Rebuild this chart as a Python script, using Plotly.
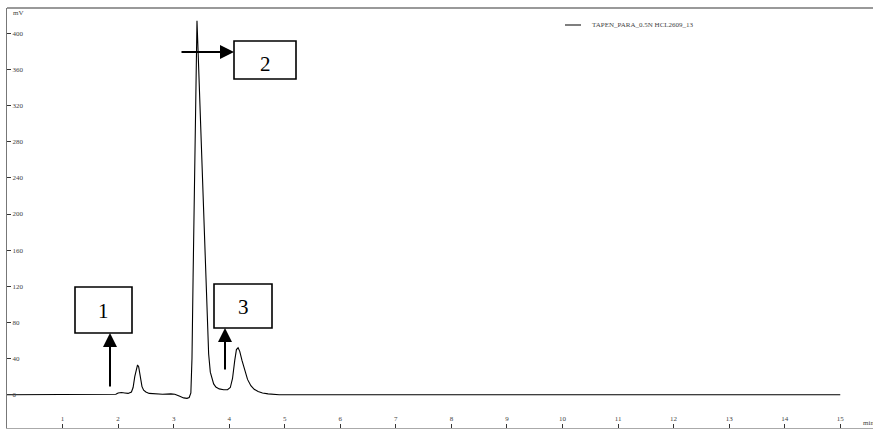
import plotly.graph_objects as go

# ---- data ----
time_min = [0.00, 1.90, 1.96, 2.00, 2.06, 2.12, 2.18, 2.24, 2.27, 2.30, 2.33, 2.35,
            2.37, 2.40, 2.43, 2.46, 2.50, 2.56, 2.65, 2.80, 2.95, 3.02, 3.10, 3.18,
            3.24, 3.28, 3.31, 3.33, 3.35, 3.37, 3.39, 3.41, 3.42, 3.44, 3.48, 3.52,
            3.56, 3.60, 3.63, 3.66, 3.69, 3.72, 3.76, 3.82, 3.90, 3.97, 4.02, 4.06,
            4.10, 4.13, 4.16, 4.19, 4.23, 4.28, 4.33, 4.39, 4.45, 4.52, 4.60, 4.70,
            4.80, 4.90, 15.00]
signal_mv = [0, 0, 0.5, 2, 2.5, 2, 1.5, 3, 8, 20, 30, 33,
             31, 18, 9, 5, 3, 1.5, 1, 0.5, 1, 0.5, -1.5, -3.5,
             -4, -3, 2, 40, 130, 230, 320, 400, 414, 380, 305, 235,
             165, 95, 45, 25, 17, 12, 8.5, 6.5, 5.5, 5.5, 8, 18,
             38, 50, 52, 48, 38, 26, 17, 10, 6, 3.5, 2, 1,
             0.5, 0, 0]
series_name = "TAPEN_PARA_0.5N HCL2609_13"
x_ticks = list(range(1, 16))
y_ticks = list(range(0, 401, 40))
peak_labels = ["1", "2", "3"]

W, H = 873, 430
ML, MR, MT, MB = 7, 0, 8, 2
PW, PH = W - ML - MR, H - MT - MB


def px(x):
    return (x - ML) / PW


def py(y):
    return (H - MB - y) / PH


FONT = "Liberation Serif"
TXT = "#444"

fig = go.Figure()
fig.add_trace(go.Scatter(x=time_min, y=signal_mv, mode="lines",
                         line=dict(color="black", width=1.1),
                         name=series_name, showlegend=False, hoverinfo="skip"))

shapes = []
annotations = []

# top frame line
shapes.append(dict(type="line", xref="paper", yref="paper", x0=0, x1=1, y0=1, y1=1,
                   line=dict(color="#777", width=1.5)))
# legend sample
shapes.append(dict(type="line", xref="paper", yref="paper", x0=px(565), x1=px(581),
                   y0=py(25), y1=py(25), line=dict(color="#555", width=1.5)))
annotations.append(dict(xref="paper", yref="paper", x=px(590), y=py(25), text=series_name,
                        showarrow=False, xanchor="left", yanchor="middle",
                        font=dict(family=FONT, size=7, color=TXT)))
# unit labels
annotations.append(dict(xref="paper", yref="paper", x=px(11), y=py(13), text="mV",
                        showarrow=False, xanchor="left", yanchor="middle",
                        font=dict(family=FONT, size=7, color=TXT)))
annotations.append(dict(xref="paper", yref="paper", x=px(861), y=py(423), text="min",
                        showarrow=False, xanchor="left", yanchor="middle",
                        font=dict(family=FONT, size=7, color=TXT)))

# peak boxes: (x0, y0, x1, y1) in pixels, label center
boxes = [((75, 287, 132, 333), (103, 311)),
         ((234, 41, 296, 79), (265, 64)),
         ((214, 284, 272, 328), (243, 307))]
for lab, ((x0, y0, x1, y1), (cx, cy)) in zip(peak_labels, boxes):
    shapes.append(dict(type="rect", xref="paper", yref="paper",
                       x0=px(x0), x1=px(x1), y0=py(y1), y1=py(y0),
                       line=dict(color="black", width=1.6), fillcolor="white", layer="above"))
    annotations.append(dict(xref="paper", yref="paper", x=px(cx), y=py(cy), text=lab,
                            showarrow=False, xanchor="center", yanchor="middle",
                            font=dict(family=FONT, size=21, color="black")))

# arrows: tip (x,y), offset of tail (ax, ay) in pixels
arrows = [((110, 333), (0, 55)),
          ((234, 52), (-54, 0)),
          ((225, 328), (0, 43))]
for (tx, ty), (ax, ay) in arrows:
    annotations.append(dict(xref="paper", yref="paper", x=px(tx), y=py(ty), ax=ax, ay=ay,
                            text="", showarrow=True, arrowhead=2, arrowsize=1.4,
                            arrowwidth=2, arrowcolor="black", standoff=0))

fig.update_layout(
    width=W, height=H,
    margin=dict(l=ML, r=MR, t=MT, b=MB, pad=0),
    paper_bgcolor="white", plot_bgcolor="white",
    showlegend=False, hovermode=False,
    font=dict(family=FONT, size=7, color=TXT),
    shapes=shapes, annotations=annotations,
    xaxis=dict(range=[0, (W - ML) / 55.55], tickvals=x_ticks, ticktext=[str(v) for v in x_ticks],
               ticks="inside", ticklen=4, tickwidth=1, tickcolor="#333",
               ticklabelposition="inside", showline=True, linecolor="#aaa", linewidth=1,
               showgrid=False, zeroline=False, fixedrange=True,
               tickfont=dict(family=FONT, size=7, color=TXT)),
    yaxis=dict(range=[-36.8, 428], tickvals=y_ticks, ticktext=[str(v) for v in y_ticks],
               ticks="inside", ticklen=4, tickwidth=1, tickcolor="#333",
               ticklabelposition="inside", showline=True, linecolor="#777", linewidth=1.5,
               showgrid=False, zeroline=False, fixedrange=True,
               tickfont=dict(family=FONT, size=7, color=TXT)),
)

fig.write_html("out.html", config={"displayModeBar": False, "staticPlot": True},
               post_script="document.body.style.margin='0';document.body.style.padding='0';")
